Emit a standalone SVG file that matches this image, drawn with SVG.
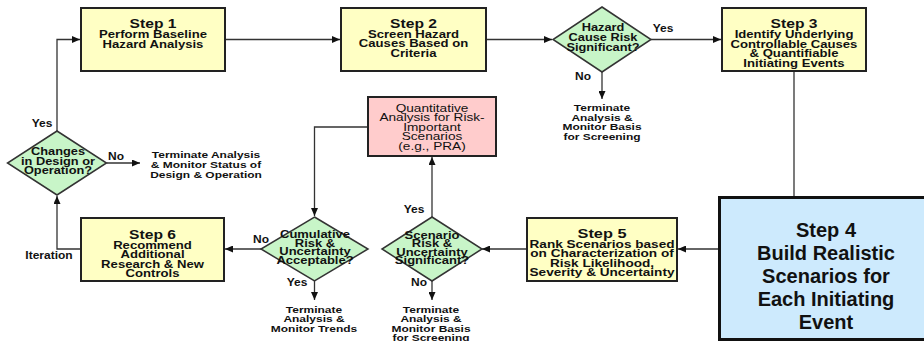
<svg xmlns="http://www.w3.org/2000/svg" width="924" height="341" viewBox="0 0 924 341">
  <defs>
    <marker id="arrow" markerUnits="userSpaceOnUse" markerWidth="9" markerHeight="7" refX="8" refY="3.5" orient="auto">
      <path d="M0,0 L8,3.5 L0,7 z" fill="#111"/>
    </marker>
    <style>
      text { font-family: "Liberation Sans", Arial, Helvetica, sans-serif; font-weight: bold; text-anchor: middle; fill: #111; }
      .box { fill: #ffffc4; stroke: #222; stroke-width: 2; }
      .dia { fill: #c8f5c8; stroke: #333; stroke-width: 1.5; }
      .quant { fill: #ffcccc; stroke: #222; stroke-width: 2; }
      .big { fill: #cdeafd; stroke: #111; stroke-width: 3; }
      .title { font-size: 12.5px; }
      .body { font-size: 10.5px; }
      .small { font-size: 10px; }
      .dtxt { font-size: 10px; }
      .lbl { font-size: 10px; }
      .term { font-size: 9.5px; }
      .plain { font-size: 10.5px; font-weight: normal; }
      .huge { font-size: 20px; }
      .conn { fill: none; stroke: #333; stroke-width: 1.3; }
    </style>
  </defs>

  <rect width="924" height="341" fill="#ffffff"/>

  <!-- connectors -->
  <g id="connectors">
    <path class="conn" d="M225,39.5 H340" marker-end="url(#arrow)"/>
    <path class="conn" d="M486,39.5 H552" marker-end="url(#arrow)"/>
    <path class="conn" d="M651,39.5 H721" marker-end="url(#arrow)"/>
    <path class="conn" d="M602,72 V99" marker-end="url(#arrow)"/>
    <path class="conn" d="M794,71 V197"/>
    <path class="conn" d="M719,249 H678" marker-end="url(#arrow)"/>
    <path class="conn" d="M527,249 H482" marker-end="url(#arrow)"/>
    <path class="conn" d="M432,217 V157" marker-end="url(#arrow)"/>
    <path class="conn" d="M432,281 V300" marker-end="url(#arrow)"/>
    <path class="conn" d="M368,127 H314.5 V216" marker-end="url(#arrow)"/>
    <path class="conn" d="M314.5,281 V300" marker-end="url(#arrow)"/>
    <path class="conn" d="M261,249 H225" marker-end="url(#arrow)"/>
    <path class="conn" d="M81,249 H57 V196" marker-end="url(#arrow)"/>
    <path class="conn" d="M106.5,163 H140" marker-end="url(#arrow)"/>
    <path class="conn" d="M57,131 V39.5 H80" marker-end="url(#arrow)"/>
  </g>

  <!-- branch labels -->
  <g id="labels">
    <g transform="translate(663 0) scale(1.2 1)"><text class="lbl" x="0" y="32.5">Yes</text></g>
    <g transform="translate(583 0) scale(1.2 1)"><text class="lbl" x="0" y="80.5">No</text></g>
    <g transform="translate(414 0) scale(1.2 1)"><text class="lbl" x="0" y="213">Yes</text></g>
    <g transform="translate(419 0) scale(1.2 1)"><text class="lbl" x="0" y="286.5">No</text></g>
    <g transform="translate(261 0) scale(1.2 1)"><text class="lbl" x="0" y="243.5">No</text></g>
    <g transform="translate(297 0) scale(1.2 1)"><text class="lbl" x="0" y="286.5">Yes</text></g>
    <g transform="translate(49 0) scale(1.2 1)"><text class="lbl" x="0" y="259.5">Iteration</text></g>
    <g transform="translate(116 0) scale(1.2 1)"><text class="lbl" x="0" y="160.5">No</text></g>
    <g transform="translate(42 0) scale(1.2 1)"><text class="lbl" x="0" y="127.5">Yes</text></g>
  </g>

  <!-- Step 1 -->
  <g id="step1">
    <rect class="box" x="81" y="8" width="144" height="63"/>
    <g transform="translate(153 0) scale(1.25 1)">
      <text class="title" x="0" y="28">Step 1</text>
      <text class="body" x="0" y="38.5">Perform Baseline</text>
      <text class="body" x="0" y="48.5">Hazard Analysis</text>
    </g>
  </g>

  <!-- Step 2 -->
  <g id="step2">
    <rect class="box" x="341" y="8" width="145" height="63"/>
    <g transform="translate(413.5 0) scale(1.25 1)">
      <text class="title" x="0" y="28">Step 2</text>
      <text class="body" x="0" y="38">Screen Hazard</text>
      <text class="body" x="0" y="47.5">Causes Based on</text>
      <text class="body" x="0" y="57">Criteria</text>
    </g>
  </g>

  <!-- Decision: hazard cause risk -->
  <g id="decision-hazard">
    <polygon class="dia" points="602,7 651,39.5 602,72 553,39.5"/>
    <g transform="translate(603 0) scale(1.28 1)">
      <text class="dtxt" x="0" y="31.5">Hazard</text>
      <text class="dtxt" x="0" y="41.5">Cause Risk</text>
      <text class="dtxt" x="0" y="51">Significant?</text>
    </g>
  </g>

  <!-- Terminal: hazard screening -->
  <g id="end-hazard">
    <g transform="translate(602 0) scale(1.26 1)">
      <text class="term" x="0" y="111.5">Terminate</text>
      <text class="term" x="0" y="121">Analysis &amp;</text>
      <text class="term" x="0" y="130.5">Monitor Basis</text>
      <text class="term" x="0" y="140">for Screening</text>
    </g>
  </g>

  <!-- Step 3 -->
  <g id="step3">
    <rect class="box" x="722" y="8" width="144" height="63"/>
    <g transform="translate(794 0) scale(1.25 1)">
      <text class="title" x="0" y="28">Step 3</text>
      <text class="body" x="0" y="38">Identify Underlying</text>
      <text class="body" x="0" y="48">Controllable Causes</text>
      <text class="body" x="0" y="57.5">&amp; Quantifiable</text>
      <text class="body" x="0" y="67">Initiating Events</text>
    </g>
  </g>

  <!-- Step 4 -->
  <g id="step4">
    <rect class="big" x="719.5" y="197.5" width="208" height="142"/>
    <text class="huge" x="826" y="237">Step 4</text>
    <text class="huge" x="826" y="260">Build Realistic</text>
    <text class="huge" x="826" y="283">Scenarios for</text>
    <text class="huge" x="826" y="306">Each Initiating</text>
    <text class="huge" x="826" y="329">Event</text>
  </g>

  <!-- Step 5 -->
  <g id="step5">
    <rect class="box" x="527" y="218" width="150" height="63"/>
    <g transform="translate(602 0) scale(1.36 1)">
      <text class="title" x="0" y="238.5" style="font-size:12px">Step 5</text>
      <text class="small" x="0" y="248">Rank Scenarios based</text>
      <text class="small" x="0" y="257.5">on Characterization of</text>
      <text class="small" x="0" y="267">Risk Likelihood,</text>
      <text class="small" x="0" y="276.5">Severity &amp; Uncertainty</text>
    </g>
  </g>

  <!-- Decision: scenario risk -->
  <g id="decision-scenario">
    <polygon class="dia" points="432,217 482,249 432,281 382,249"/>
    <g transform="translate(432 0) scale(1.3 1)">
      <text class="dtxt" x="0" y="239">Scenario</text>
      <text class="dtxt" x="0" y="247.5">Risk &amp;</text>
      <text class="dtxt" x="0" y="256">Uncertainty</text>
      <text class="dtxt" x="0" y="264.5">Significant?</text>
    </g>
  </g>

  <!-- Terminal: scenario screening -->
  <g id="end-scenario">
    <g transform="translate(431 0) scale(1.26 1)">
      <text class="term" x="0" y="313">Terminate</text>
      <text class="term" x="0" y="322.5">Analysis &amp;</text>
      <text class="term" x="0" y="332">Monitor Basis</text>
      <text class="term" x="0" y="341">for Screening</text>
    </g>
  </g>

  <!-- Quantitative analysis -->
  <g id="quant-analysis">
    <rect class="quant" x="368" y="97" width="128" height="59"/>
    <g transform="translate(432 0) scale(1.3 1)">
      <text class="plain" x="0" y="112">Quantitative</text>
      <text class="plain" x="0" y="121.5">Analysis for Risk-</text>
      <text class="plain" x="0" y="131">Important</text>
      <text class="plain" x="0" y="140.5">Scenarios</text>
      <text class="plain" x="0" y="150">(e.g., PRA)</text>
    </g>
  </g>

  <!-- Decision: cumulative risk -->
  <g id="decision-cumulative">
    <polygon class="dia" points="314.5,217 368,249 314.5,281 261,249"/>
    <g transform="translate(315 0) scale(1.3 1)">
      <text class="dtxt" x="0" y="238.5">Cumulative</text>
      <text class="dtxt" x="0" y="247">Risk &amp;</text>
      <text class="dtxt" x="0" y="255.5">Uncertainty</text>
      <text class="dtxt" x="0" y="264">Acceptable?</text>
    </g>
  </g>

  <!-- Terminal: monitor trends -->
  <g id="end-trends">
    <g transform="translate(314 0) scale(1.26 1)">
      <text class="term" x="0" y="313">Terminate</text>
      <text class="term" x="0" y="322.5">Analysis &amp;</text>
      <text class="term" x="0" y="332">Monitor Trends</text>
    </g>
  </g>

  <!-- Step 6 -->
  <g id="step6">
    <rect class="box" x="81" y="218" width="143" height="63"/>
    <g transform="translate(152.5 0) scale(1.25 1)">
      <text class="title" x="0" y="239">Step 6</text>
      <text class="body" x="0" y="249.5">Recommend</text>
      <text class="body" x="0" y="258.5">Additional</text>
      <text class="body" x="0" y="268">Research &amp; New</text>
      <text class="body" x="0" y="277">Controls</text>
    </g>
  </g>

  <!-- Decision: design changes -->
  <g id="decision-changes">
    <polygon class="dia" points="57,131 106.5,163 57,195 7.5,163"/>
    <g transform="translate(58 0) scale(1.28 1)">
      <text class="dtxt" x="0" y="155.5">Changes</text>
      <text class="dtxt" x="0" y="165.5">in Design or</text>
      <text class="dtxt" x="0" y="174.5">Operation?</text>
    </g>
  </g>

  <!-- Terminal: design status -->
  <g id="end-design">
    <g transform="translate(206 0) scale(1.26 1)">
      <text class="term" x="0" y="158.5">Terminate Analysis</text>
      <text class="term" x="0" y="168.5">&amp; Monitor Status of</text>
      <text class="term" x="0" y="178.5">Design &amp; Operation</text>
    </g>
  </g>
</svg>
